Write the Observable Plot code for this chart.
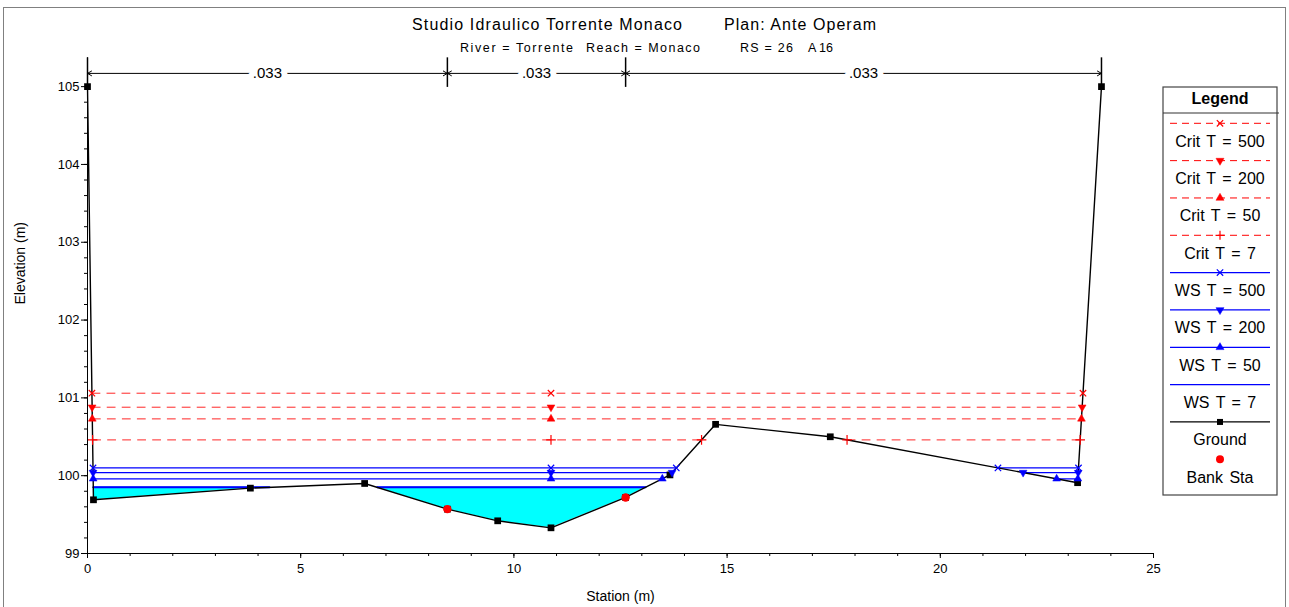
<!DOCTYPE html>
<html><head><meta charset="utf-8">
<script src="https://cdn.jsdelivr.net/npm/d3@7"></script>
<script src="https://cdn.jsdelivr.net/npm/@observablehq/plot@0.6"></script>
<style>
body{margin:0;background:#fff;}
#wrap{position:relative;width:1289px;height:607px;overflow:hidden;font-family:'Liberation Sans',Arial,sans-serif;background:#fff;}
#frame{position:absolute;left:3px;top:7px;width:1283px;height:640px;border:1.5px solid #808080;box-sizing:border-box;}
#chart{position:absolute;left:0;top:0;}
#overlay{position:absolute;left:0;top:0;}
</style></head>
<body><div id="wrap"><div id="frame"></div><div id="chart"></div></div>
<script>
// ---- data ----
const groundX = [0, 0.14, 3.82, 6.50, 8.44, 9.62, 10.87, 12.62, 13.66, 14.73, 17.42, 23.22, 23.78];
const groundY = [105.0, 99.69, 99.84, 99.90, 99.57, 99.42, 99.33, 99.72, 100.01, 100.66, 100.50, 99.91, 105.0];
const bankX = [8.44, 12.62];
const bankY = [99.57, 99.72];
const profileNames = ["Crit T = 500", "Crit T = 200", "Crit T = 50", "Crit T = 7", "WS T = 500", "WS T = 200", "WS T = 50", "WS T = 7"];
const profileElev = [101.06, 100.88, 100.73, 100.46, 100.10, 100.04, 99.96, 99.85];
const profileKind = ["crit", "crit", "crit", "crit", "ws", "ws", "ws", "ws"];
const profileSymbol = ["times", "down", "up", "plus", "times", "down", "up", "none"];
const manningN = [".033", ".033", ".033"];
const xTicks = [0, 5, 10, 15, 20, 25];
const yTicks = [99, 100, 101, 102, 103, 104, 105];
const xLabel = "Station (m)";
const yLabel = "Elevation (m)";
const titleMain = "Studio Idraulico Torrente Monaco";
const titlePlan = "Plan: Ante Operam";
const subtitleParts = ["River = Torrente", "Reach = Monaco", "RS = 26", "A", "16"];

// ---- derived ----
const ground = groundX.map((x, i) => ({x, y: groundY[i]}));
const bank = bankX.map((x, i) => ({x, y: bankY[i]}));
const thalwegX = groundX[groundY.indexOf(d3.min(groundY))];

function wetPieces(level) {
  const pieces = [];
  let cur = null;
  for (let i = 0; i < ground.length - 1; i++) {
    const a = ground[i], b = ground[i + 1];
    const cross = () => ({x: a.x + (level - a.y) / (b.y - a.y) * (b.x - a.x), g: level});
    if (a.y < level && b.y < level) {
      if (!cur) { cur = [{x: a.x, g: a.y}]; }
      cur.push({x: b.x, g: b.y});
    } else if (a.y >= level && b.y < level) {
      cur = [cross(), {x: b.x, g: b.y}];
    } else if (a.y < level && b.y >= level) {
      if (!cur) cur = [{x: a.x, g: a.y}];
      cur.push(cross());
      pieces.push(cur); cur = null;
    }
  }
  if (cur) pieces.push(cur);
  return pieces;
}

const triDown = {
  draw(context, size) {
    const y = -Math.sqrt(size / (Math.sqrt(3) * 3));
    context.moveTo(0, -y * 2);
    context.lineTo(-Math.sqrt(3) * y, y);
    context.lineTo(Math.sqrt(3) * y, y);
    context.closePath();
  }
};

const colorOf = k => k === "crit" ? "#ff0000" : "#0000ff";

const lineRows = [], markerRows = [];
profileElev.forEach((lev, p) => {
  const pieces = wetPieces(lev);
  pieces.forEach((pc, j) => {
    const x0 = pc[0].x, x1 = pc[pc.length - 1].x;
    lineRows.push({x: x0, y: lev, id: p + "-" + j, p}, {x: x1, y: lev, id: p + "-" + j, p});
    if (profileSymbol[p] !== "none") {
      markerRows.push({x: x0, y: lev, p}, {x: x1, y: lev, p});
      if (thalwegX > x0 && thalwegX < x1) markerRows.push({x: thalwegX, y: lev, p});
    }
  });
});

const fillLevel = profileElev[profileElev.length - 1];
const fillRows = [];
wetPieces(fillLevel).forEach((pc, j) => pc.forEach(d => fillRows.push({x: d.x, g: d.g, w: fillLevel, id: j})));

const dimStations = [groundX[0], ...bankX, groundX[groundX.length - 1]];
const dimY = 105.17;
const dimSegs = manningN.map((n, i) => ({a: dimStations[i], b: dimStations[i + 1], m: (dimStations[i] + dimStations[i + 1]) / 2, n}));
const arrows = dimSegs.flatMap(s => [{x1: s.m, x2: s.a}, {x1: s.m, x2: s.b}]);

const symMarks = [];
const symDefs = {
  times: {symbol: "times", r: 3, stroke: true},
  plus: {symbol: "plus", r: 3.2, stroke: true},
  up: {symbol: "triangle", r: 2.9, stroke: false},
  down: {symbol: triDown, r: 2.9, stroke: false}
};
profileElev.forEach((lev, p) => {
  const s = profileSymbol[p];
  if (s === "none") return;
  const def = symDefs[s];
  const rows = markerRows.filter(d => d.p === p);
  const c = colorOf(profileKind[p]);
  symMarks.push(Plot.dot(rows, {x: "x", y: "y", symbol: def.symbol, r: def.r,
    fill: def.stroke ? "none" : c, stroke: c, strokeWidth: def.stroke ? 1.2 : 0.5}));
});

const chart = Plot.plot({
  width: 1289, height: 607,
  marginLeft: 87, marginRight: 136, marginTop: 55, marginBottom: 54,
  x: {domain: [0, 25]},
  y: {domain: [99, 105.4]},
  style: {fontFamily: "'Liberation Sans', Arial, sans-serif", fontSize: "13px", background: "transparent", overflow: "visible", color: "black"},
  marks: [
    Plot.areaY(fillRows, {x: "x", y1: "g", y2: "w", z: "id", fill: "#00ffff", curve: "linear"}),
    Plot.line(lineRows.filter(d => profileKind[d.p] === "crit"), {x: "x", y: "y", z: "id", stroke: "#ff0000", strokeWidth: 1, strokeDasharray: "8,7", strokeOpacity: 0.85}),
    Plot.line(lineRows.filter(d => profileKind[d.p] === "ws"), {x: "x", y: "y", z: "id", stroke: "#0000ff", strokeWidth: 1.2}),
    Plot.line(lineRows.filter(d => d.p === profileElev.length - 1), {x: "x", y: "y", z: "id", stroke: "#0000ff", strokeWidth: 2}),
    Plot.line(ground, {x: "x", y: "y", stroke: "black", strokeWidth: 1.4}),
    Plot.dot(ground, {x: "x", y: "y", symbol: "square", r: 3.8, fill: "black", stroke: "none"}),
    ...symMarks,
    Plot.dot(bank, {x: "x", y: "y", r: 4.2, fill: "#ff0000", stroke: "none"}),
    // dimension (Manning n) line
    Plot.arrow(arrows, {x1: "x1", x2: "x2", y1: dimY, y2: dimY, stroke: "black", strokeWidth: 1, headLength: 7, headAngle: 60}),
    Plot.ruleX(dimStations, {x: d => d, y1: 104.99, y2: 105.37, stroke: "black", strokeWidth: 1.5}),
    Plot.text(dimSegs, {x: "m", y: dimY, text: "n", fontSize: 15, fill: "black", stroke: "white", strokeWidth: 12}),
    // axes
    Plot.ruleX([0], {y1: 99, y2: 105.37, stroke: "black", strokeWidth: 1}),
    Plot.ruleY([99], {x1: 0, x2: 25, stroke: "black", strokeWidth: 1}),
    Plot.axisX({ticks: xTicks, tickSize: 5, tickPadding: 5, fontSize: 13, tickFormat: d3.format("d"), label: null}),
    Plot.axisX({ticks: d3.range(0, 26, 1), tickSize: 3, tickFormat: () => "", label: null}),
    Plot.axisY({ticks: yTicks, tickSize: 6, tickPadding: 2, fontSize: 13, tickFormat: d3.format("d"), label: null}),
    Plot.axisY({ticks: d3.range(99, 105.01, 0.2), tickSize: 3, tickFormat: () => "", label: null}),
    Plot.text([xLabel], {frameAnchor: "bottom", dy: 47, fontSize: 14, fill: "black"}),
    Plot.text([yLabel], {frameAnchor: "left", dx: -67, rotate: -90, fontSize: 14, fill: "black"})
  ]
});
document.getElementById("chart").appendChild(chart);

// ---- title and legend overlay ----
const ov = d3.select("#wrap").append("svg").attr("id", "overlay").attr("width", 1289).attr("height", 607)
  .style("font-family", "'Liberation Sans', Arial, sans-serif");
ov.append("text").attr("x", 412).attr("y", 30).attr("font-size", 16).attr("textLength", 270).attr("lengthAdjust", "spacing").text(titleMain);
ov.append("text").attr("x", 724).attr("y", 30).attr("font-size", 16).attr("textLength", 152).attr("lengthAdjust", "spacing").text(titlePlan);
const subX = [460, 586, 740, 808, 819], subW = [113, 114, 53, 0, 0];
subtitleParts.forEach((t, i) => {
  const el = ov.append("text").attr("x", subX[i]).attr("y", 51.5).attr("font-size", 12.5).text(t);
  if (subW[i]) el.attr("textLength", subW[i]).attr("lengthAdjust", "spacing");
});

const lg = ov.append("g");
lg.append("rect").attr("x", 1163).attr("y", 87).attr("width", 114).attr("height", 408).attr("fill", "white").attr("stroke", "#444").attr("stroke-width", 1.2);
lg.append("text").attr("x", 1220).attr("y", 104).attr("text-anchor", "middle").attr("font-size", 16).attr("font-weight", "bold").text("Legend");
lg.append("line").attr("x1", 1163).attr("x2", 1279).attr("y1", 113).attr("y2", 113).attr("stroke", "#333").attr("stroke-width", 1.2);
const legendNames = [...profileNames, "Ground", "Bank Sta"];
legendNames.forEach((name, i) => {
  const ly = 123.3 + i * 37.33;
  const cx = 1220;
  if (i < profileNames.length) {
    const c = colorOf(profileKind[i]);
    lg.append("line").attr("x1", 1170).attr("x2", 1270).attr("y1", ly).attr("y2", ly).attr("stroke", c)
      .attr("stroke-width", profileKind[i] === "crit" ? 1 : 1.3).attr("stroke-dasharray", profileKind[i] === "crit" ? "7,5" : null);
    const s = profileSymbol[i];
    if (s !== "none") {
      const type = s === "times" ? d3.symbolTimes : s === "plus" ? d3.symbolPlus : s === "up" ? d3.symbolTriangle : triDown;
      const stroked = s === "times" || s === "plus";
      lg.append("path").attr("transform", `translate(${cx},${ly})`).attr("d", d3.symbol(type, 28)())
        .attr("fill", stroked ? "none" : c).attr("stroke", c).attr("stroke-width", stroked ? 1.2 : 0.5);
    }
  } else if (name === "Ground") {
    lg.append("line").attr("x1", 1170).attr("x2", 1270).attr("y1", ly).attr("y2", ly).attr("stroke", "black").attr("stroke-width", 1.3);
    lg.append("rect").attr("x", cx - 3).attr("y", ly - 3).attr("width", 6).attr("height", 6).attr("fill", "black");
  } else {
    lg.append("circle").attr("cx", cx).attr("cy", ly).attr("r", 4).attr("fill", "#ff0000");
  }
  lg.append("text").attr("x", cx).attr("y", ly + 23.5).attr("text-anchor", "middle").attr("font-size", 16)
    .attr("word-spacing", "2px").text(name);
});
</script>
</body></html>
